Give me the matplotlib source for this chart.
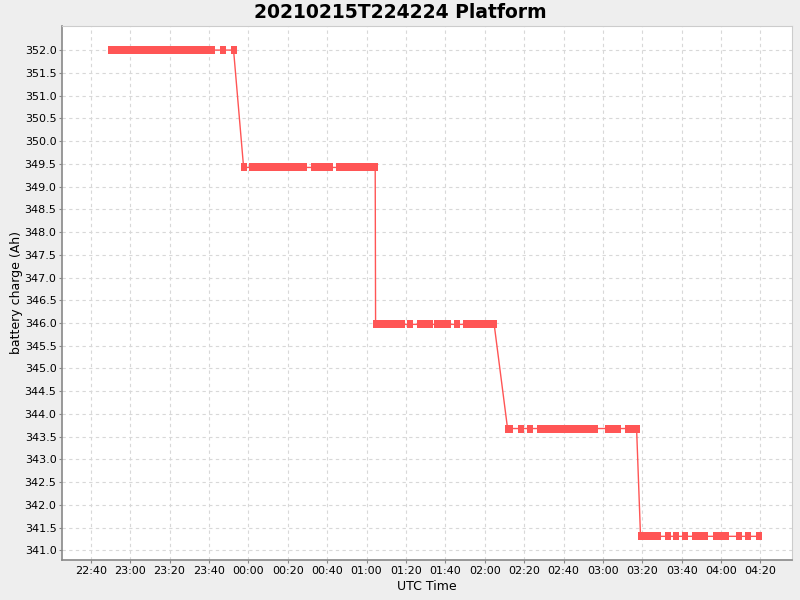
import matplotlib
matplotlib.use("Agg")
import matplotlib.pyplot as plt
import matplotlib.dates as mdates
import numpy as np
from datetime import datetime, timedelta

# runs of samples (start, end) at each charge level
runs_352 = [("02-15 22:50:06", "02-15 23:41:42"), ("02-15 23:47:12", None), ("02-15 23:52:30", None)]
runs_349 = [("02-15 23:57:36", None), ("02-16 00:02:06", "02-16 00:28:24"),
            ("02-16 00:33:06", "02-16 00:41:36"), ("02-16 00:45:48", "02-16 01:04:24")]
runs_346 = [("02-16 01:04:36", "02-16 01:17:48"), ("02-16 01:22:18", None),
            ("02-16 01:26:54", "02-16 01:32:00"), ("02-16 01:36:00", "02-16 01:41:36"),
            ("02-16 01:45:42", None), ("02-16 01:50:18", "02-16 02:04:48")]
runs_343 = [("02-16 02:11:36", "02-16 02:12:36"), ("02-16 02:18:12", None), ("02-16 02:23:12", None),
            ("02-16 02:28:18", "02-16 02:56:12"), ("02-16 03:02:48", "02-16 03:07:54"),
            ("02-16 03:12:30", "02-16 03:17:06")]
runs_341 = [("02-16 03:19:06", "02-16 03:28:12"), ("02-16 03:32:48", None), ("02-16 03:37:06", None),
            ("02-16 03:41:54", None), ("02-16 03:47:00", "02-16 03:51:36"),
            ("02-16 03:57:12", "02-16 04:02:42"), ("02-16 04:09:18", None),
            ("02-16 04:13:54", None), ("02-16 04:19:00", None)]

levels = [352.0, 349.42, 345.97, 343.68, 341.31]
all_runs = [runs_352, runs_349, runs_346, runs_343, runs_341]
sample_step = 60  # seconds between samples


def parse(s):
    return datetime.strptime("2021-" + s, "%Y-%m-%d %H:%M:%S")


times = []
values = []
for level, runs in zip(levels, all_runs):
    for start, end in runs:
        t0 = parse(start)
        if end is None:
            times.append(t0)
            values.append(level)
            continue
        t1 = parse(end)
        t = t0
        while t < t1:
            times.append(t)
            values.append(level)
            t += timedelta(seconds=sample_step)
        times.append(t1)
        values.append(level)

fig = plt.figure(figsize=(8, 6), dpi=100)
fig.patch.set_facecolor("#EEEEEE")
ax = fig.add_axes([0.0775, 0.0667, 0.9125, 0.89])
ax.set_facecolor("white")

# near-square marker, like the original renderer
box = [(-0.47, -0.5), (0.47, -0.5), (0.47, 0.5), (-0.47, 0.5), (-0.47, -0.5)]
ax.plot(times, values, color="#FF5555", linewidth=1.0, marker=box,
        markersize=5.3, markeredgewidth=0, zorder=3)

ax.set_xlim(datetime(2021, 2, 15, 22, 25, 24), datetime(2021, 2, 16, 4, 36, 0))
ax.set_ylim(340.79, 352.53)
ax.set_yticks(np.arange(341.0, 352.01, 0.5))
ax.yaxis.set_major_formatter(matplotlib.ticker.FormatStrFormatter("%.1f"))
ax.xaxis.set_major_locator(mdates.MinuteLocator(byminute=[0, 20, 40]))
ax.xaxis.set_major_formatter(mdates.DateFormatter("%H:%M"))

ax.grid(True, color="#D8D8D8", linestyle=(0, (3, 3)), linewidth=0.8, zorder=0)
for side in ["top", "right"]:
    ax.spines[side].set_color("#CCCCCC")
for side in ["left", "bottom"]:
    ax.spines[side].set_color("#888888")
    ax.spines[side].set_linewidth(1.2)
ax.tick_params(axis="both", colors="#888888", labelcolor="black", labelsize=8, length=2, pad=2)

ax.set_xlabel("UTC Time", fontsize=9, labelpad=3)
ax.set_ylabel("battery charge (Ah)", fontsize=9, labelpad=1)
fig.suptitle("20210215T224224 Platform", fontsize=13.5, fontweight="bold", y=0.995)

fig.savefig("out.png", dpi=100, facecolor=fig.get_facecolor())
